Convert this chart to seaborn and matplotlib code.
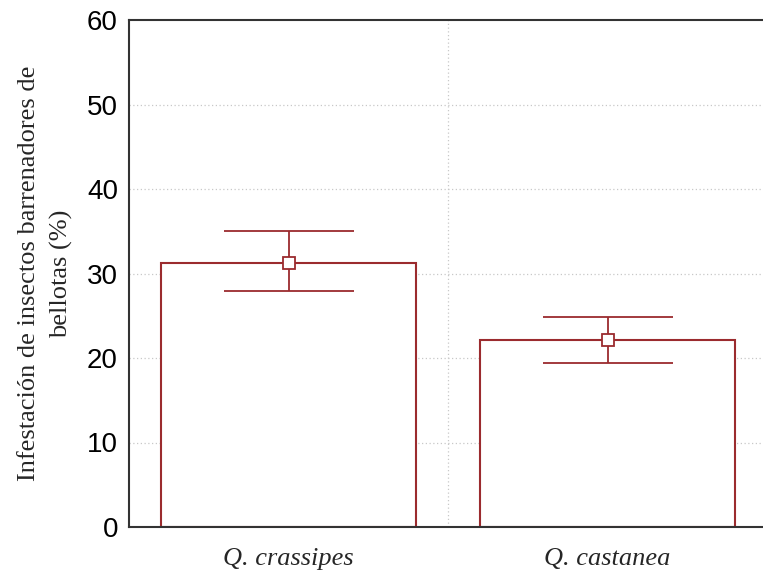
import numpy as np
import pandas as pd
import seaborn as sns
import matplotlib.pyplot as plt

especies = ['Q. crassipes', 'Q. castanea']
media = [31.3, 22.1]
err_sup = [35.0, 24.8]
err_inf = [27.9, 19.4]

df = pd.DataFrame({'especie': especies, 'infestacion': media})

sns.set_style('white')
plt.rcParams['font.family'] = ['Liberation Sans', 'DejaVu Sans']

rojo = '#9b2b2e'

fig = plt.figure(figsize=(7.63, 5.71), dpi=100)
ax = fig.add_axes([129 / 763, 44 / 571, 638 / 763, 507 / 571])

sns.barplot(data=df, x='especie', y='infestacion', color='white',
            edgecolor=rojo, linewidth=1.5, width=0.8, errorbar=None, ax=ax)

x = np.arange(len(especies))
yerr = [np.array(media) - np.array(err_inf), np.array(err_sup) - np.array(media)]
ax.errorbar(x, media, yerr=yerr, fmt='s', color=rojo, mfc='white', mec=rojo,
            ms=8, mew=1.3, elinewidth=1.3, capsize=47, capthick=1.3, zorder=5)

ax.set_xlim(-0.5, 1.5)
ax.set_ylim(0, 60)
ax.set_yticks([0, 10, 20, 30, 40, 50, 60])
ax.set_xticks([0, 1])
ax.set_xticklabels(especies, fontfamily='Liberation Serif', fontstyle='italic', fontsize=19)
ax.tick_params(axis='y', labelsize=20, direction='in', length=3, pad=8, colors='black')
ax.tick_params(axis='x', length=0, pad=15)

for yv in [10, 20, 30, 40, 50]:
    ax.axhline(yv, color='#c8c8c8', lw=0.9, ls=(0, (1, 2)), zorder=0)
ax.axvline(0.5, color='#c8c8c8', lw=0.9, ls=(0, (1, 2)), zorder=0)

for s in ['left', 'top', 'bottom', 'right']:
    ax.spines[s].set_color('#333333')
    ax.spines[s].set_linewidth(1.5)

ax.set_xlabel('')
ax.set_ylabel('Infestación de insectos barrenadores de\nbellotas (%)',
              fontfamily='Liberation Serif', fontsize=19, linespacing=1.55, labelpad=10)

fig.savefig('out.png', dpi=100)
